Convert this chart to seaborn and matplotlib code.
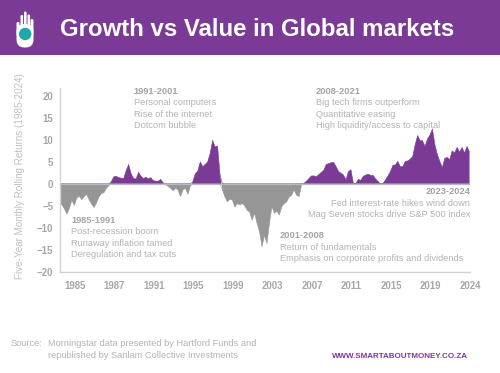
import numpy as np
import pandas as pd
import matplotlib
matplotlib.use('Agg')
import matplotlib.pyplot as plt
from matplotlib.patches import Rectangle, Circle, FancyBboxPatch
import seaborn as sns

# quarterly rolling return differences
returns = [
    -4.2, -4.8, -5.7, -6.9, -5.6, -3.8, -4.9, -3.3, -2.8, -3.6,
    -2.9, -2.4, -3.6, -4.6, -5.4, -4.3, -3.0, -2.2, -2.0, -1.0,
    -0.4, 0.5, 1.6, 1.7, 1.4, 1.3, 1.2, 3.0, 4.4, 2.3,
    1.2, 1.1, 2.6, 1.7, 1.2, 1.5, 1.1, 1.4, 0.7, 0.6,
    0.6, 1.0, 0.2, -0.2, -0.6, -1.0, -1.6, -1.0, -1.4, -2.9,
    -1.4, -1.0, -2.4, -0.5, 0.5, 2.3, 2.9, 5.0, 3.9, 4.4,
    5.0, 6.9, 9.9, 8.4, 8.6, 2.0, -1.4, -3.0, -4.1, -3.5,
    -3.7, -5.3, -4.5, -4.8, -4.5, -5.0, -6.0, -6.4, -8.3, -6.7,
    -9.0, -10.9, -14.3, -11.7, -13.6, -9.0, -5.2, -6.7, -6.2, -7.1,
    -5.2, -4.5, -4.1, -3.0, -2.6, -1.4, -2.6, -2.9, -0.3, 0.1,
    0.6, 1.2, 1.8, 1.8, 1.6, 2.1, 2.6, 3.1, 4.4, 4.6,
    4.8, 4.9, 3.9, 2.8, 2.4, 2.0, 0.9, 2.8, 3.2, 0.1,
    0.1, 1.0, 0.8, 1.7, 2.0, 2.2, 1.9, 1.9, 1.1, 0.5,
    0.0, 0.1, 0.9, 1.8, 2.8, 4.2, 4.3, 5.1, 3.9, 3.9,
    5.1, 5.2, 5.6, 6.2, 8.9, 11.0, 9.8, 9.8, 8.5, 10.2,
    11.1, 12.5, 8.9, 6.6, 5.1, 3.7, 5.8, 6.0, 5.5, 7.5,
    7.0, 8.3, 7.2, 8.3, 7.0, 8.5, 7.2,
]
year_labels = ['1985', '1987', '1991', '1995', '1999', '2003', '2007', '2011', '2015', '2019', '2024']
y_ticks = [-20, -15, -10, -5, 0, 5, 10, 15, 20]

purple = '#7b3a96'
grey_fill = '#969696'
axis_grey = '#d2d2d2'
label_grey = '#a6a6a6'
note_grey = '#b4b4b4'

sns.set_theme(style='white')
plt.rcParams['font.family'] = ['Liberation Sans', 'DejaVu Sans']

df = pd.DataFrame({'quarter': np.arange(len(returns)), 'value': returns})
df['up'] = df['value'].clip(lower=0)
df['down'] = df['value'].clip(upper=0)

fig = plt.figure(figsize=(5, 3.73), dpi=100)

# overlay in pixel coordinates for the banner and the notes
bg = fig.add_axes([0, 0, 1, 1])
bg.set_xlim(0, 500)
bg.set_ylim(373, 0)
bg.axis('off')
bg.add_patch(Rectangle((0, 0), 500, 55, color=purple, lw=0))

# hand logo
bg.add_patch(FancyBboxPatch((16.5, 24), 17, 23.5, boxstyle='round,pad=0,rounding_size=8', fc='white', ec='none'))
bg.add_patch(FancyBboxPatch((30.5, 19), 3, 16, boxstyle='round,pad=0,rounding_size=1.4', fc='white', ec='none'))
bg.add_patch(FancyBboxPatch((16.5, 22), 3, 14, boxstyle='round,pad=0,rounding_size=1.4', fc='white', ec='none'))
for fx, ftop in [(20.5, 15), (24, 11.5), (27.5, 14.5)]:
    bg.add_patch(FancyBboxPatch((fx, ftop), 2.6, 16, boxstyle='round,pad=0,rounding_size=1.2', fc='white', ec='none'))
bg.add_patch(Circle((25.2, 34), 6.2, fc='#1fa8a8', ec='none'))

bg.text(60, 29, 'Growth vs Value in Global markets', color='white', fontsize=17.25, fontweight='bold', va='center')


def note(x, y, lines, ha='left'):
    bg.text(x, y, lines[0], color='#a4a4a4', fontsize=6.65, fontweight='bold', va='center', ha=ha)
    for i, line in enumerate(lines[1:]):
        bg.text(x, y + 11.2 * (i + 1), line, color=note_grey, fontsize=6.65, va='center', ha=ha)


note(133.5, 91.7, ['1991-2001', 'Personal computers', 'Rise of the internet', 'Dotcom bubble'])
note(316, 91.7, ['2008-2021', 'Big tech firms outperform', 'Quantitative easing', 'High liquidity/access to capital'])
note(71, 220.7, ['1985-1991', 'Post-recession boom', 'Runaway inflation tamed', 'Deregulation and tax cuts'])
note(280, 236, ['2001-2008', 'Return of fundamentals', 'Emphasis on corporate profits and dividends'])
note(470, 192, ['2023-2024', 'Fed interest-rate hikes wind down', 'Mag Seven stocks drive S&P 500 index'], ha='right')

bg.text(20, 176, 'Five-Year Monthly Rolling Returns (1985-2024)', color='#c0c0c0', fontsize=7.1,
        rotation=90, va='center', ha='center')
bg.text(11, 344, 'Source:', color=note_grey, fontsize=6.65, va='center')
bg.text(48.5, 344, 'Morningstar data presented by Hartford Funds and', color=note_grey, fontsize=6.65, va='center')
bg.text(48.5, 355.5, 'republished by Sanlam Collective Investments', color=note_grey, fontsize=6.65, va='center')
bg.text(332, 356, 'WWW.SMARTABOUTMONEY.CO.ZA', color=purple, fontsize=5.8, fontweight='bold', va='center')

# chart
ax = fig.add_axes([59.5 / 500, (373 - 271.7) / 373, (470 - 59.5) / 500, (271.7 - 88) / 373])
ax.patch.set_alpha(0)
ax.fill_between(df['quarter'], 0, df['value'], where=df['value'] >= 0, interpolate=True, color=purple, lw=0)
ax.fill_between(df['quarter'], 0, df['value'], where=df['value'] <= 0, interpolate=True, color=grey_fill, lw=0)
sns.lineplot(data=df, x='quarter', y='up', color=purple, linewidth=0.4, ax=ax)
sns.lineplot(data=df, x='quarter', y='down', color=grey_fill, linewidth=0.4, ax=ax)
ax.axhline(0, color='#b9b9c4', lw=0.9, zorder=3)

ax.set_xlim(0, 166.2)
ax.set_ylim(-20, 21.8)
ax.set_xticks(6.2 + 16 * np.arange(len(year_labels)))
ax.set_xticklabels(year_labels)
ax.set_yticks(y_ticks)
ax.set_xlabel('')
ax.set_ylabel('')
ax.tick_params(axis='both', length=0, labelcolor=label_grey, labelsize=6.9)
ax.tick_params(axis='x', pad=6.5)
ax.tick_params(axis='y', pad=4.5)
for lab in ax.get_xticklabels() + ax.get_yticklabels():
    lab.set_fontweight('bold')
sns.despine(ax=ax)
for side in ['left', 'bottom']:
    ax.spines[side].set_color(axis_grey)
    ax.spines[side].set_linewidth(1.0)

fig.savefig('out.png', dpi=100)
